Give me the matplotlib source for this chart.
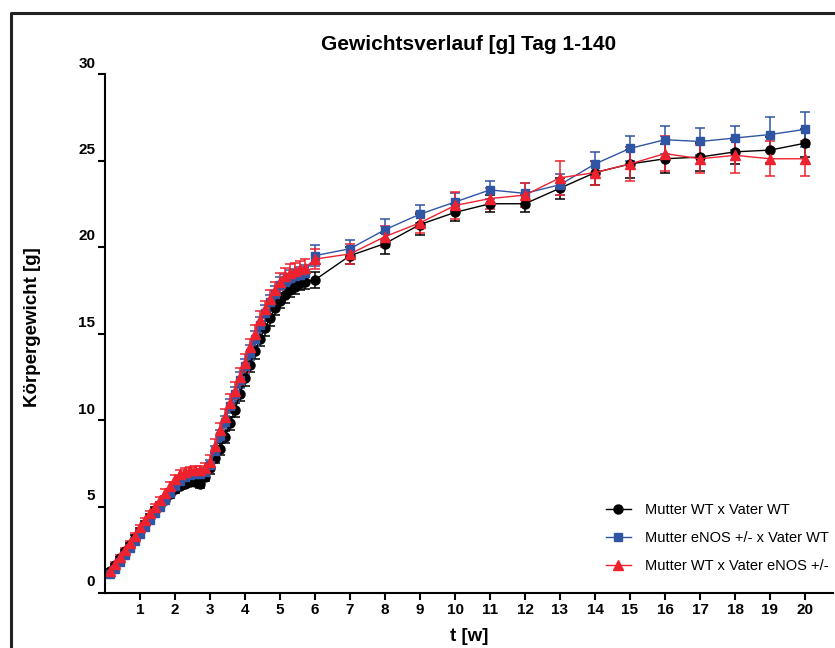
import matplotlib
matplotlib.use('Agg')
import matplotlib.pyplot as plt
import matplotlib.transforms as mtransforms
from matplotlib.lines import Line2D
import numpy as np

plt.rcParams['font.family'] = ['Liberation Sans', 'DejaVu Sans']

# Messtage (taeglich bis Tag 40, danach woechentlich)
tage = [1, 2, 3, 4, 5, 6, 7, 8, 9, 10, 11, 12, 13, 14, 15, 16, 17, 18, 19, 20,
        21, 22, 23, 24, 25, 26, 27, 28, 29, 30, 31, 32, 33, 34, 35, 36, 37, 38, 39, 40,
        42, 49, 56, 63, 70, 77, 84, 91, 98, 105, 112, 119, 126, 133, 140]

# Mutter WT x Vater WT
wt_mean = [1.3, 1.6, 2.0, 2.4, 2.8, 3.2, 3.6, 4.0, 4.4, 4.8, 5.1, 5.4, 5.7, 6.0, 6.2, 6.3, 6.4, 6.4, 6.3, 6.7,
           7.2, 7.8, 8.3, 9.0, 9.8, 10.6, 11.5, 12.4, 13.2, 14.0, 14.7, 15.3, 15.9, 16.5, 16.9, 17.2, 17.5, 17.7, 17.9, 18.0,
           18.1, 19.5, 20.2, 21.3, 22.0, 22.5, 22.5, 23.4, 24.3, 24.8, 25.1, 25.2, 25.5, 25.6, 26.0]
wt_sem = [0.1, 0.1, 0.1, 0.1, 0.1, 0.15, 0.15, 0.15, 0.15, 0.15, 0.15, 0.2, 0.2, 0.2, 0.2, 0.2, 0.2, 0.2, 0.25, 0.25,
          0.3, 0.3, 0.35, 0.35, 0.4, 0.4, 0.4, 0.45, 0.45, 0.45, 0.45, 0.45, 0.45, 0.45, 0.45, 0.45, 0.4, 0.4, 0.4, 0.4,
          0.45, 0.5, 0.6, 0.6, 0.5, 0.5, 0.5, 0.6, 0.7, 0.8, 0.85, 0.8, 0.7, 0.75, 0.8]

# Mutter eNOS +/- x Vater WT
enos_m_mean = [1.1, 1.4, 1.8, 2.2, 2.6, 3.0, 3.4, 3.8, 4.2, 4.6, 5.0, 5.4, 5.8, 6.2, 6.5, 6.7, 6.8, 6.9, 6.9, 7.0,
               7.4, 8.2, 9.1, 9.9, 10.8, 11.5, 12.3, 13.1, 13.9, 14.7, 15.5, 16.2, 16.8, 17.3, 17.8, 18.0, 18.2, 18.3, 18.4, 18.5,
               19.5, 19.9, 21.0, 21.9, 22.6, 23.3, 23.1, 23.6, 24.8, 25.7, 26.2, 26.1, 26.3, 26.5, 26.8]
enos_m_sem = [0.1, 0.1, 0.1, 0.1, 0.1, 0.15, 0.15, 0.15, 0.15, 0.15, 0.15, 0.2, 0.2, 0.2, 0.2, 0.2, 0.2, 0.2, 0.25, 0.25,
              0.3, 0.3, 0.35, 0.35, 0.4, 0.4, 0.45, 0.45, 0.45, 0.45, 0.45, 0.45, 0.45, 0.45, 0.45, 0.45, 0.45, 0.45, 0.45, 0.45,
              0.6, 0.5, 0.6, 0.5, 0.5, 0.5, 0.6, 0.6, 0.7, 0.7, 0.8, 0.8, 0.7, 1.0, 1.0]

# Mutter WT x Vater eNOS +/-
enos_v_mean = [1.3, 1.7, 2.1, 2.5, 2.9, 3.3, 3.8, 4.2, 4.6, 5.0, 5.4, 5.8, 6.2, 6.6, 6.9, 7.0, 7.1, 7.1, 7.1, 7.2,
               7.6, 8.5, 9.4, 10.2, 11.0, 11.7, 12.5, 13.3, 14.2, 15.0, 15.8, 16.4, 17.0, 17.5, 18.0, 18.3, 18.5, 18.6, 18.7, 18.8,
               19.3, 19.6, 20.6, 21.4, 22.4, 22.8, 23.0, 24.0, 24.3, 24.8, 25.4, 25.1, 25.3, 25.1, 25.1]
enos_v_sem = [0.1, 0.1, 0.1, 0.1, 0.1, 0.15, 0.15, 0.15, 0.15, 0.15, 0.15, 0.2, 0.2, 0.2, 0.2, 0.2, 0.2, 0.25, 0.25, 0.3,
              0.35, 0.4, 0.4, 0.45, 0.5, 0.5, 0.5, 0.5, 0.5, 0.5, 0.5, 0.5, 0.5, 0.5, 0.5, 0.5, 0.5, 0.5, 0.5, 0.5,
              0.6, 0.6, 0.6, 0.6, 0.8, 0.6, 0.7, 1.0, 0.7, 1.0, 1.0, 0.8, 1.0, 1.0, 1.0]

# Tage -> Wochen
t_w = np.array(tage) / 7.0

fig = plt.figure(figsize=(8.35, 6.48), dpi=100)
ax = fig.add_axes([105 / 835, 55 / 648, 728 / 835, 519 / 648])

gruppen = [
    (wt_mean, wt_sem, 'black', 'o', 6.5, 'Mutter WT x Vater WT'),
    (enos_m_mean, enos_m_sem, '#2F55A4', 's', 6.0, 'Mutter eNOS +/- x Vater WT'),
    (enos_v_mean, enos_v_sem, '#EE222E', '^', 6.5, 'Mutter WT x Vater eNOS +/-'),
]
handles = []
for mean, sem, col, mk, ms, lab in gruppen:
    ax.errorbar(t_w, mean, yerr=sem, color=col, marker=mk, markersize=ms, lw=1.0,
                elinewidth=1.1, capsize=3.6, capthick=1.1)
    # Legenden-Eintrag ohne Fehlerbalken
    handles.append(Line2D([], [], color=col, marker=mk, markersize=ms, lw=1.0, label=lab))

# Achsen im Prism-Stil
ax.set_xlim(0, 20.8)
ax.set_ylim(0, 30)
ax.set_xticks(range(1, 21))
ax.set_yticks(range(0, 31, 5))
for s in ['top', 'right']:
    ax.spines[s].set_visible(False)
for s in ['left', 'bottom']:
    ax.spines[s].set_linewidth(1.5)
ax.tick_params(width=1.5, length=5, labelsize=11, pad=2)
for lbl in ax.get_xticklabels() + ax.get_yticklabels():
    lbl.set_fontweight('bold')

# y-Beschriftung etwas ueber den Ticks
offset = mtransforms.ScaledTranslation(0, 12 / 100, fig.dpi_scale_trans)
for lbl in ax.get_yticklabels():
    lbl.set_transform(lbl.get_transform() + offset)

ax.set_title('Gewichtsverlauf [g] Tag 1-140', fontsize=15, fontweight='bold', pad=17)
ax.set_ylabel('Körpergewicht [g]', fontsize=13.5, fontweight='bold', labelpad=27, y=0.513)
ax.set_xlabel('t [w]', fontsize=13.5, fontweight='bold', labelpad=8)

leg = ax.legend(handles=handles, loc='upper left', bbox_to_anchor=(606 / 835, 1 - 503 / 648),
                bbox_transform=fig.transFigure, frameon=False, fontsize=10.5, handlelength=1.7,
                handletextpad=0.95, labelspacing=0.95, borderpad=0, borderaxespad=0)

# Rahmen um die Grafik (links und oben)
fig.add_artist(Line2D([11 / 835, 11 / 835, 1.0], [0.0, 1 - 13 / 648, 1 - 13 / 648],
                      transform=fig.transFigure, color='#222222', lw=2.2))

fig.savefig('out.png', dpi=100)
